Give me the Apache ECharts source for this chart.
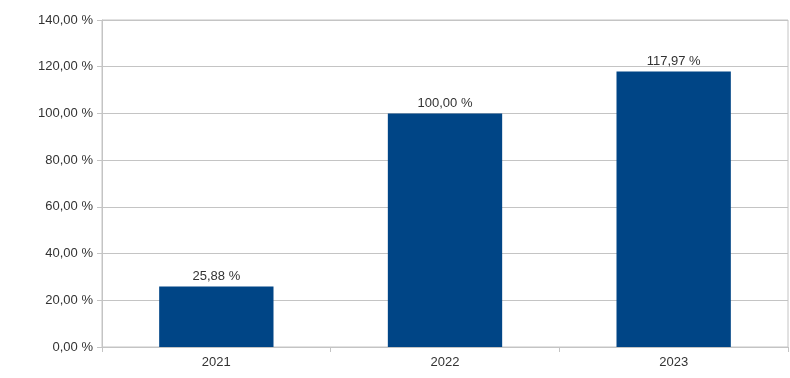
<!DOCTYPE html>
<html>
<head>
<meta charset="utf-8">
<script src="https://cdn.jsdelivr.net/npm/echarts@6/dist/echarts.min.js"></script>
<style>
html, body { margin: 0; padding: 0; background: #fff; }
#main { width: 790px; height: 378px; }
</style>
</head>
<body>
<div id="main"></div>
<script>
var years = ['2021', '2022', '2023'];
var values = [25.88, 100.00, 117.97];

function pct(v) {
	return v.toFixed(2).replace('.', ',') + ' %';
}

var myChart = echarts.init(document.getElementById('main'));
var option = {
	animation: false,
	textStyle: { fontFamily: 'Liberation Sans, Arial, sans-serif' },
	grid: {
		left: 102,
		right: 2,
		top: 20,
		bottom: 31,
		show: true,
		borderColor: '#c4c4c4',
		borderWidth: 1
	},
	xAxis: {
		type: 'category',
		data: years,
		axisLine: { lineStyle: { color: '#c4c4c4' } },
		axisTick: { show: true, length: 5, lineStyle: { color: '#c4c4c4' } },
		axisLabel: { color: '#333', fontSize: 13, margin: 9 }
	},
	yAxis: {
		type: 'value',
		min: 0,
		max: 140,
		interval: 20,
		axisLine: { show: true, lineStyle: { color: '#c4c4c4' } },
		axisTick: { show: true, length: 5, lineStyle: { color: '#c4c4c4' } },
		axisLabel: {
			color: '#333',
			fontSize: 13,
			margin: 9,
			formatter: function(v) { return pct(v); }
		},
		splitLine: { lineStyle: { color: '#c4c4c4' } }
	},
	series: [{
		type: 'bar',
		data: values,
		barWidth: '50%',
		itemStyle: { color: '#004586' },
		label: {
			show: true,
			position: 'top',
			distance: 4,
			color: '#333',
			fontSize: 13,
			formatter: function(p) { return pct(p.value); }
		}
	}]
};
myChart.setOption(option);
</script>
</body>
</html>
